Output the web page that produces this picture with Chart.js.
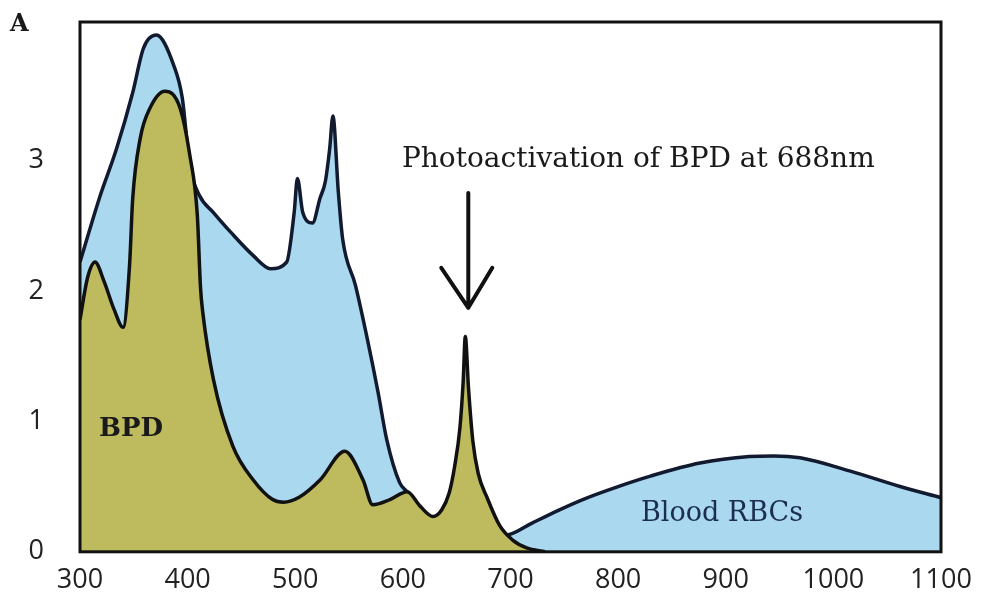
<!DOCTYPE html>
<html>
<head>
<meta charset="utf-8">
<script src="https://cdn.jsdelivr.net/npm/chart.js@4"></script>
<style>
  html, body { margin: 0; padding: 0; background: #fff; }
  #wrap { width: 985px; height: 596px; }
</style>
</head>
<body>
<div id="wrap"><canvas id="spectrum"></canvas></div>
<script>
// absorbance spectra (wavelength nm / absorbance)
const bloodWl  = [300, 318, 334, 349, 359, 371, 387, 395, 402, 411, 424, 440, 461, 477, 492, 499, 502, 507, 516, 523, 528, 532, 535, 540, 544, 556, 567, 577, 585, 597, 604, 620, 650, 680, 698, 720, 745, 770, 800, 830, 876, 922, 945, 969, 1015, 1062, 1100];
const bloodAbs = [2.22, 2.71, 3.09, 3.52, 3.86, 3.96, 3.73, 3.48, 2.96, 2.73, 2.6, 2.45, 2.27, 2.17, 2.22, 2.6, 2.86, 2.6, 2.52, 2.71, 2.84, 3.09, 3.34, 2.76, 2.4, 2.04, 1.63, 1.22, 0.86, 0.53, 0.46, 0.3, 0.16, 0.12, 0.13, 0.22, 0.32, 0.41, 0.5, 0.58, 0.68, 0.73, 0.735, 0.72, 0.62, 0.5, 0.415];

const bpdWl  = [300, 307, 314, 322, 332, 340, 346, 349, 356, 365, 379, 393, 402, 409, 412, 414, 424, 442, 461, 479, 489, 504, 523, 546, 563, 572, 588, 604, 616, 628, 636, 643, 648, 653, 656, 658, 661, 665, 670, 678, 690, 702, 715, 732];
const bpdAbs = [1.78, 2.1, 2.22, 2.08, 1.85, 1.72, 2.19, 2.71, 3.17, 3.4, 3.53, 3.4, 3.04, 2.58, 2.02, 1.84, 1.32, 0.81, 0.55, 0.4, 0.38, 0.42, 0.55, 0.77, 0.55, 0.36, 0.4, 0.46, 0.35, 0.27, 0.32, 0.45, 0.65, 0.95, 1.3, 1.65, 1.25, 0.85, 0.6, 0.42, 0.2, 0.09, 0.03, 0];

const xTicks = [300, 400, 500, 600, 700, 800, 900, 1000, 1100];
const yTicks = [0, 1, 2, 3];
const laserWl = 658; // where the arrow points (peak of BPD band)

const toPts = (xs, ys) => xs.map((x, i) => ({ x: x, y: ys[i] }));

// chart.js keeps leaving a big gap on top, pull the plot top up to 22px
const plotTop = {
  id: 'plotTop',
  afterLayout(chart) {
    const y = chart.scales.y;
    chart.chartArea.top = 22;
    chart.chartArea.height = chart.chartArea.bottom - 22;
    y.top = 22;
    y.height = y.bottom - 22;
    y.configure();
  }
};

// box around plot + text annotations + arrow
const decor = {
  id: 'decor',
  afterDatasetsDraw(chart) {
    const { ctx, chartArea: a, scales: { x, y } } = chart;
    ctx.save();
    ctx.strokeStyle = '#111';
    ctx.lineWidth = 3;
    ctx.strokeRect(a.left, a.top, a.right - a.left, a.bottom - a.top);

    // arrow
    const ax = x.getPixelForValue(laserWl) + 3;
    const top = y.getPixelForValue(2.75);
    const tip = y.getPixelForValue(1.87);
    ctx.lineWidth = 4;
    ctx.lineCap = 'round';
    ctx.lineJoin = 'round';
    ctx.beginPath();
    ctx.moveTo(ax, top);
    ctx.lineTo(ax, tip);
    ctx.moveTo(ax - 27, tip - 40);
    ctx.lineTo(ax, tip);
    ctx.lineTo(ax + 24, tip - 40);
    ctx.stroke();

    ctx.fillStyle = '#1a1a1a';
    ctx.textBaseline = 'middle';
    ctx.textAlign = 'left';
    ctx.font = '28px "DejaVu Serif"';
    ctx.fillText('Photoactivation of BPD at 688nm', 402, 160);

    ctx.font = 'bold 26px "DejaVu Serif"';
    ctx.fillText('BPD', 99, 429);

    ctx.fillStyle = '#1c2d52';
    ctx.font = '27px "DejaVu Serif"';
    ctx.fillText('Blood RBCs', 641, 514);

    ctx.fillStyle = '#1a1a1a';
    ctx.font = 'bold 24px "DejaVu Serif"';
    ctx.fillText('A', 10, 25);
    ctx.restore();
  }
};

new Chart(document.getElementById('spectrum'), {
  type: 'line',
  data: {
    datasets: [
      {
        label: 'BPD',
        data: toPts(bpdWl, bpdAbs),
        borderColor: '#111',
        backgroundColor: '#bdbb5e',
        borderWidth: 3.5,
        fill: 'origin',
        pointRadius: 0,
        cubicInterpolationMode: 'monotone'
      },
      {
        label: 'Blood RBCs',
        data: toPts(bloodWl, bloodAbs),
        borderColor: '#121a30',
        backgroundColor: '#a9d8ef',
        borderWidth: 3.5,
        fill: 'origin',
        pointRadius: 0,
        cubicInterpolationMode: 'monotone'
      }
    ]
  },
  options: {
    responsive: true,
    maintainAspectRatio: false,
    animation: false,
    layout: { padding: { top: 0, right: 44, left: 0, bottom: 0 } },
    plugins: {
      legend: { display: false },
      tooltip: { enabled: false }
    },
    scales: {
      x: {
        type: 'linear',
        min: 300,
        max: 1100,
        afterBuildTicks: s => { s.ticks = xTicks.map(v => ({ value: v })); },
        afterFit: s => { s.height = 44; },
        grid: { display: false },
        border: { display: false },
        ticks: {
          color: '#222',
          font: { family: 'Open Sans', size: 27 },
          padding: 4,
          callback: v => String(v)
        }
      },
      y: {
        min: 0,
        max: 4.06,
        afterBuildTicks: s => { s.ticks = yTicks.map(v => ({ value: v })); },
        afterFit: s => { s.width = 80; },
        grid: { display: false },
        border: { display: false },
        ticks: {
          color: '#222',
          font: { family: 'Open Sans', size: 27 },
          padding: 28,
          callback: v => String(v)
        }
      }
    }
  },
  plugins: [plotTop, decor]
});
</script>
</body>
</html>
